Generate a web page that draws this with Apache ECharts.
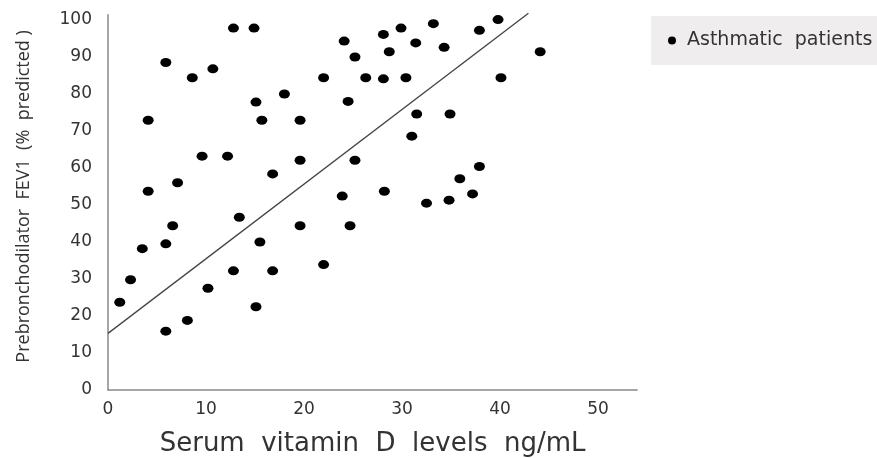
<!DOCTYPE html>
<html>
<head>
<meta charset="utf-8">
<script src="https://cdn.jsdelivr.net/npm/echarts@6/dist/echarts.min.js"></script>
<style>
  html, body { margin: 0; padding: 0; background: #fff; }
  #chart { width: 877px; height: 458px; }
</style>
</head>
<body>
<div id="chart"></div>
<script>
  // serum vitamin D (ng/mL) for each patient
  var vitaminD = [
    12.8, 14.9, 5.9, 10.7, 8.6, 18.0, 15.1, 4.1, 15.7, 19.6,
    9.6, 12.2, 19.6, 16.8, 7.1, 4.1, 39.8, 33.2, 29.9, 37.9,
    28.1, 24.1, 31.4, 34.3, 28.7, 44.1, 25.2, 22.0, 26.3, 28.1,
    30.4, 40.1, 24.5, 31.5, 34.9, 31.0, 25.2, 37.9, 35.9, 23.9,
    28.2, 37.2, 32.5, 34.8, 19.6, 13.4, 6.6, 15.5, 3.5, 5.9,
    2.3, 12.8, 16.8, 10.2, 1.2, 15.1, 8.1, 5.9, 24.7, 22.0
  ];
  // prebronchodilator FEV1 (% predicted), same order
  var fev1 = [
    97.8, 97.8, 88.5, 86.8, 84.4, 80.0, 77.8, 72.9, 72.9, 72.9,
    63.2, 63.2, 62.1, 58.4, 56.0, 53.7, 100.1, 99.0, 97.8, 97.2,
    96.1, 94.3, 93.8, 92.6, 91.4, 91.4, 90.0, 84.4, 84.4, 84.1,
    84.4, 84.4, 78.0, 74.6, 74.6, 68.6, 62.1, 60.4, 57.1, 52.4,
    53.7, 53.0, 50.5, 51.3, 44.4, 46.7, 44.4, 40.0, 38.2, 39.5,
    29.8, 32.2, 32.2, 27.5, 23.7, 22.5, 18.8, 15.9, 44.4, 33.9
  ];
  // fitted line end points
  var trendX = [0, 42.9];
  var trendY = [15.3, 101.8];

  var textColor = "#333", axisColor = "#888", fontName = "DejaVu Sans";

  function getOptions(){
    var points = [], trend = [];
    vitaminD.forEach(function (v, i) {
      points.push([v, fev1[i]]);
    });
    trendX.forEach(function (v, i) {
      trend.push([v, trendY[i]]);
    });
    return {
      animation: false,
      textStyle: {fontFamily: fontName},
      grid: {left: 108, right: 239.8, top: 14.8, bottom: 68, outerBoundsMode: "none", containLabel: false},
      legend: {
        left: 651,
        top: 16,
        padding: [15, 60, 15, 17],
        backgroundColor: "#efeded",
        itemWidth: 8,
        itemHeight: 8,
        icon: "circle",
        data: ["Asthmatic  patients"],
        textStyle: {color: textColor, fontSize: 19, fontFamily: fontName, padding: [0, 0, 0, 6]}
      },
      xAxis: {
        type: "value",
        min: 0,
        max: 54,
        interval: 10,
        name: "Serum  vitamin  D  levels  ng/mL",
        nameLocation: "middle",
        nameGap: 41,
        nameTextStyle: {color: textColor, fontSize: 26, fontFamily: fontName},
        splitLine: {show: false},
        axisTick: {show: false},
        axisLine: {lineStyle: {color: axisColor, width: 1.5}},
        axisLabel: {color: textColor, fontSize: 17, margin: 11, showMaxLabel: false}
      },
      yAxis: {
        type: "value",
        min: 0,
        max: 101.4,
        interval: 10,
        name: "Prebronchodilator  FEV1  (%  predicted )",
        nameLocation: "middle",
        nameGap: 75,
        nameTextStyle: {color: textColor, fontSize: 18, fontFamily: "Open Sans", padding: [0, 0, 0, 12]},
        splitLine: {show: false},
        axisTick: {show: false},
        axisLine: {show: true, lineStyle: {color: axisColor, width: 1.5}},
        axisLabel: {color: textColor, fontSize: 17, margin: 16, showMaxLabel: false}
      },
      series: [
        {
          name: "Asthmatic  patients",
          type: "scatter",
          symbol: "circle",
          symbolSize: [11, 9],
          itemStyle: {color: "#000", opacity: 1},
          data: points,
          z: 3
        },
        {
          type: "line",
          data: trend,
          symbol: "none",
          clip: false,
          silent: true,
          lineStyle: {color: "#444", width: 1.3},
          z: 2
        }
      ]
    };
  }

  var chartDom = echarts.init(document.getElementById("chart"));
  chartDom.setOption(getOptions());
</script>
</body>
</html>
